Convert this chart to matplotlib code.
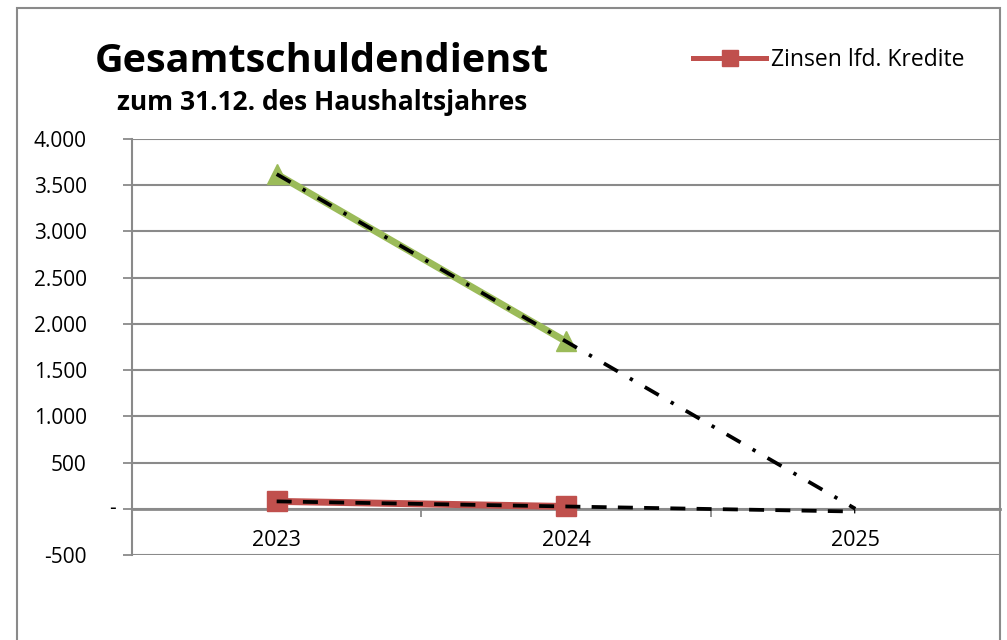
import matplotlib
matplotlib.use('Agg')
import numpy as np
import matplotlib.pyplot as plt
from matplotlib.lines import Line2D
from matplotlib.patches import Rectangle
import matplotlib.transforms as mtransforms

plt.rcParams['font.family'] = ['Open Sans', 'DejaVu Sans']

# ---- data ----
years = ['2023', '2024', '2025']
gesamt = [3620, 1810]          # green series (Gesamtschuldendienst)
zinsen = [80, 25]              # Zinsen lfd. Kredite
legend_label = 'Zinsen lfd. Kredite'
title = 'Gesamtschuldendienst'
subtitle = 'zum 31.12. des Haushaltsjahres'
y_ticks = [-500, 0, 500, 1000, 1500, 2000, 2500, 3000, 3500, 4000]
y_labels = ['-500', '', '500', '1.000', '1.500', '2.000', '2.500', '3.000', '3.500', '4.000']
zero_label = '-'

GREEN = '#9BBB59'
RED = '#C0504D'
GRID = '#8A8A8A'

W, H = 1007, 640
fig = plt.figure(figsize=(W / 100, H / 100), dpi=100)
fig.patch.set_facecolor('white')

# outer chart frame
fig.patches.append(Rectangle((17 / W, -0.05), (1000 - 17) / W, 1.05 - 8 / H,
                             transform=fig.transFigure, fill=False,
                             edgecolor=GRID, linewidth=1.5))

ax = fig.add_axes([132 / W, 85 / H, 868 / W, 416 / H])
ax.set_xlim(-0.5, 2.5)
ax.set_ylim(-500, 4000)

x_data = np.arange(len(gesamt))
x_all = np.arange(len(years))

# series
ax.plot(x_data, gesamt, color=GREEN, lw=5, marker='^', ms=15, mec=GREEN, mfc=GREEN,
        zorder=3, solid_capstyle='butt')
ax.plot(x_data, zinsen, color=RED, lw=5, marker='s', ms=14, mec=RED, mfc=RED,
        zorder=3, solid_capstyle='butt')

# linear trend lines (forecast one period)
fit_g = np.polyfit(x_data, gesamt, 1)
fit_z = np.polyfit(x_data, zinsen, 1)
tl_g, = ax.plot(x_all, np.polyval(fit_g, x_all), color='black', lw=2.7, zorder=4)
tl_g.set_dashes([4.3, 3.7, 0.9, 3.7])
tl_z, = ax.plot(x_all, np.polyval(fit_z, x_all), color='black', lw=2.7, zorder=4)
tl_z.set_dashes([4, 3])

# grid
ax.set_yticks(y_ticks)
ax.set_yticklabels(y_labels)
ax.yaxis.grid(True, color=GRID, lw=1.5)
ax.set_axisbelow(True)
ax.tick_params(axis='y', length=6.5, width=1.3, color=GRID, pad=26, labelsize=15,
               labelcolor='black')

# spines
for s in ['top', 'right']:
    ax.spines[s].set_visible(False)
ax.spines['left'].set_color(GRID)
ax.spines['left'].set_linewidth(1.5)
ax.spines['bottom'].set_position(('data', 0))
ax.spines['bottom'].set_color(GRID)
ax.spines['bottom'].set_linewidth(2)

# x ticks: major at category boundaries, minor (labelled) at centers
ax.set_xticks([-0.5, 0.5, 1.5, 2.5])
ax.set_xticklabels([])
ax.set_xticks(x_all, minor=True)
ax.set_xticklabels(years, minor=True)
ax.tick_params(axis='x', which='major', length=5.8, width=1.3, color=GRID, direction='out')
ax.tick_params(axis='x', which='minor', length=0, pad=15, labelsize=15.5)

# zero label "-"
tr = mtransforms.offset_copy(ax.get_yaxis_transform(), fig=fig, x=-16, y=0, units='dots')
ax.text(0, 0, zero_label, transform=tr, ha='right', va='center', fontsize=15)

# titles
fig.text(322 / W, 1 - 62 / H, title, ha='center', va='center', fontsize=28.5, fontweight='bold')
fig.text(322 / W, 1 - 103 / H, subtitle, ha='center', va='center', fontsize=19, fontweight='bold')

# legend
handle = Line2D([], [], color=RED, lw=3.6, marker='s', ms=12, mfc=RED, mec=RED)
fig.legend([handle], [legend_label], loc='center left',
           bbox_to_anchor=(693 / W, 1 - 60 / H), frameon=False, fontsize=16.5,
           handlelength=3.2, handletextpad=0.2, borderpad=0, borderaxespad=0)

fig.savefig('out.png', dpi=100)
